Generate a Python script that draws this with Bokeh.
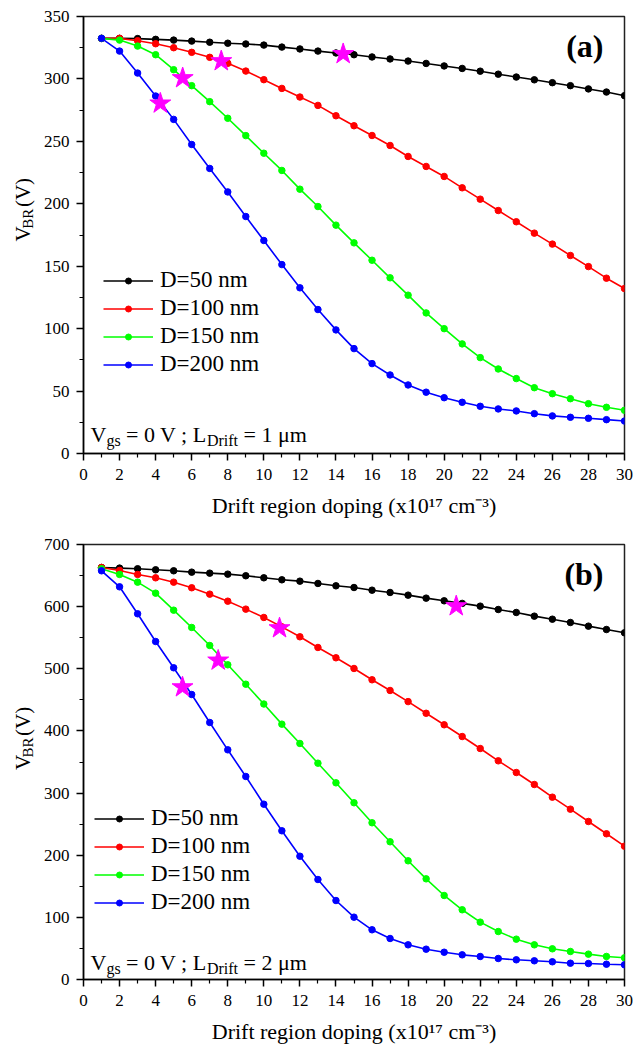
import math
from bokeh.plotting import figure
from bokeh.models import Range1d, FixedTicker, Label, Legend, LegendItem
from bokeh.layouts import column, row
from bokeh.core.properties import value
from bokeh.embed import file_html
from bokeh.resources import INLINE

# ---------------- data ----------------
doping = list(range(1, 31))  # x10^17 cm^-3

# panel (a): L_Drift = 1 um
a_d50 = [332.5, 332.5, 332.3, 331.7, 331.1, 330.3, 329.4, 328.6, 328.0, 327.1,
         325.5, 324.0, 322.3, 320.8, 319.4, 317.6, 316.0, 314.3, 312.4, 310.4,
         308.4, 306.2, 303.8, 301.5, 299.3, 297.0, 294.6, 292.0, 289.5, 286.6]
a_d100 = [332.5, 332.5, 330.6, 328.2, 325.0, 321.3, 317.3, 312.5, 306.3, 299.4,
          292.4, 285.5, 278.8, 270.5, 262.5, 254.7, 246.7, 237.9, 229.9, 221.9,
          212.8, 203.7, 194.6, 185.6, 176.5, 167.7, 158.6, 149.7, 140.4, 132.1]
a_d150 = [332.5, 331.1, 326.3, 319.4, 307.4, 294.6, 281.8, 268.5, 254.6, 240.5,
          226.7, 211.7, 197.8, 182.9, 168.7, 154.8, 140.7, 126.8, 112.6, 100.0,
          87.8, 76.8, 67.7, 60.0, 52.7, 47.9, 43.9, 39.9, 37.0, 34.6]
a_d200 = [332.5, 322.3, 304.7, 286.3, 267.6, 247.5, 228.3, 209.5, 189.8, 170.6,
          151.3, 132.7, 115.3, 99.0, 84.0, 72.0, 62.9, 54.9, 49.1, 44.7,
          41.0, 37.8, 35.7, 34.1, 31.9, 30.1, 29.0, 28.2, 27.1, 26.0]
a_star_x = [4.26, 5.5, 7.64, 14.4]
a_star_y = [280.4, 300.7, 314.3, 320.0]

# panel (b): L_Drift = 2 um
b_d50 = [663.0, 662.0, 661.0, 659.3, 657.7, 655.5, 653.9, 652.3, 649.7, 646.4,
         643.2, 641.0, 637.3, 633.5, 630.8, 626.5, 622.8, 618.5, 613.7, 609.4,
         605.2, 600.8, 595.4, 590.6, 584.7, 579.8, 574.5, 568.6, 563.2, 557.9]
b_d100 = [663.0, 658.2, 651.8, 646.4, 639.4, 630.4, 620.1, 608.8, 596.0, 582.6,
          567.5, 551.5, 534.3, 517.7, 500.5, 482.3, 465.1, 447.2, 428.4, 409.9,
          391.0, 371.7, 351.9, 333.1, 313.8, 293.4, 274.1, 254.3, 234.5, 214.5]
b_d150 = [661.0, 651.8, 639.4, 621.7, 594.3, 566.5, 537.5, 506.4, 475.2, 443.3,
          410.9, 379.8, 348.1, 316.5, 284.4, 252.2, 221.6, 191.0, 162.0, 135.2,
          112.2, 92.3, 77.2, 64.9, 55.8, 49.4, 45.1, 40.8, 37.1, 34.9]
b_d200 = [657.7, 631.9, 588.5, 543.9, 501.6, 458.6, 413.6, 369.6, 326.7, 282.1,
          239.3, 198.4, 160.9, 127.1, 100.3, 80.0, 66.0, 55.8, 48.8, 43.9,
          39.7, 37.0, 33.8, 31.7, 30.1, 28.5, 26.2, 25.7, 24.6, 23.7]
b_star_x = [5.49, 7.47, 10.87, 20.67]
b_star_y = [470.4, 513.4, 565.4, 600.8]

series_names = ["D=50 nm", "D=100 nm", "D=150 nm", "D=200 nm"]
series_colors = ["#000000", "#FF0000", "#00FF00", "#0000FF"]

x_major = list(range(0, 31, 2))
x_minor = list(range(1, 30, 2))

FONT = "Liberation Serif"
# approximate Times/Liberation Serif advance widths (em)
W = {"V": .722, "g": .5, "s": .389, " ": .25, "=": .564, "0": .5, "1": .5, "2": .5,
     ";": .278, "L": .611, "D": .722, "r": .333, "i": .278, "f": .333, "t": .278,
     "μ": .576, "m": .778, "B": .667, "R": .667, "(": .333, ")": .333}


def tw(s, size):
    return sum(W.get(c, .5) for c in s) * size


LAB_W = 40
FRAME_W = 541


def make_panel(height, b_top, b_bot, frame_h, ymax, y_major, y_minor, ys,
               sx, sy, tag, ldrift, leg_loc, note_x, note_y):
    p = figure(width=637 - LAB_W, height=height, x_range=Range1d(0, 30),
               y_range=Range1d(0, ymax), output_backend="svg",
               toolbar_location=None, min_border_left=83 - LAB_W,
               min_border_right=637 - LAB_W - (83 - LAB_W) - FRAME_W,
               min_border_top=b_top, min_border_bottom=b_bot)
    p.grid.visible = False
    p.outline_line_color = "#222222"
    p.outline_line_width = 1.5
    p.background_fill_color = "white"
    p.border_fill_color = "white"

    p.xaxis.ticker = FixedTicker(ticks=x_major, minor_ticks=x_minor)
    p.yaxis.ticker = FixedTicker(ticks=y_major, minor_ticks=y_minor)
    for ax in (p.xaxis[0], p.yaxis[0]):
        ax.axis_line_width = 1.5
        ax.axis_line_color = "black"
        ax.major_tick_out = 7
        ax.major_tick_in = 0
        ax.minor_tick_out = 4
        ax.minor_tick_in = 0
        ax.major_tick_line_width = 1.5
        ax.minor_tick_line_width = 1.2
        ax.major_label_text_font = FONT
        ax.major_label_text_font_size = "17px"
        ax.major_label_text_color = "black"
    p.xaxis.major_label_standoff = 8
    p.yaxis.major_label_standoff = 7
    p.xaxis.axis_label = "Drift region doping (x10\u00b9\u2077 cm\u207b\u00b3)"
    p.xaxis.axis_label_text_font = FONT
    p.xaxis.axis_label_text_font_size = "22px"
    p.xaxis.axis_label_text_font_style = "normal"
    p.xaxis.axis_label_text_color = "black"
    p.xaxis.axis_label_standoff = 10

    items = []
    for name, col, y in zip(series_names, series_colors, ys):
        r1 = p.line(doping, y, line_color=col, line_width=1.6)
        r2 = p.scatter(doping, y, marker="circle", size=6.5, fill_color=col,
                       line_color=col)
        items.append(LegendItem(label=name, renderers=[r1, r2]))
    p.scatter(sx, sy, marker="star", size=22, fill_color="#FF00FF",
              line_color="#FF00FF")

    leg = Legend(items=items, location=leg_loc, background_fill_alpha=0,
                 border_line_alpha=0, label_text_font=FONT,
                 label_text_color="black",
                 label_text_font_size="23px", glyph_width=50, glyph_height=15,
                 label_height=28, spacing=0, padding=5, margin=0,
                 label_standoff=7)
    p.add_layout(leg)

    # condition note: V_gs = 0 V ; L_Drift = x um
    main, sub = 22, 16
    segs = [("V", main, 0, 0), ("gs", sub, -6, 0), ("= 0 V ; L", main, 0, 5.5),
            ("Drift", sub, -6, 0), (f"= {ldrift} μm", main, 0, 5.5)]
    cx = note_x
    for t, s, dy, pre in segs:
        cx += pre
        p.add_layout(Label(x=cx, y=note_y + dy, x_units="screen",
                           y_units="screen", text=t, text_font=FONT,
                           text_font_size=f"{s}px", text_color="black",
                           text_baseline="alphabetic", text_align="left"))
        cx += tw(t, s)

    # panel tag
    p.add_layout(Label(x=FRAME_W - 21, y=frame_h - 29, x_units="screen",
                       y_units="screen", text=tag, text_font=FONT,
                       text_font_size="32px", text_font_style="bold",
                       text_color="black", text_align="right",
                       text_baseline="middle"))

    # separate strip holding the rotated y-axis title V_BR (V)
    lab = figure(width=LAB_W, height=height, x_range=Range1d(0, LAB_W),
                 y_range=Range1d(0, height), output_backend="svg",
                 toolbar_location=None, x_axis_type=None, y_axis_type=None,
                 min_border=0)
    lab.grid.visible = False
    lab.outline_line_color = None
    lab.background_fill_color = "white"
    lab.border_fill_color = "white"
    ymain, ysub = 21, 15
    centre = height - (b_top + frame_h / 2)
    gap = 6
    total = tw("V", ymain) + tw("BR", ysub) + gap + tw("(V)", ymain)
    y0 = centre - total / 2
    parts = [("V", ymain, 22, y0),
             ("BR", ysub, 27, y0 + tw("V", ymain)),
             ("(V)", ymain, 22, y0 + tw("V", ymain) + tw("BR", ysub) + gap)]
    for t, s, xx, yy in parts:
        lab.text(x=[xx], y=[yy], text=[t], angle=math.pi / 2,
                 text_font=value(FONT), text_font_size=value(f"{s}px"),
                 text_color="black", text_align="left",
                 text_baseline="alphabetic")
    return row(lab, p)


r1 = make_panel(524, 16, 71, 437, 350, list(range(0, 351, 50)),
                list(range(25, 350, 50)), [a_d50, a_d100, a_d150, a_d200],
                a_star_x, a_star_y, "(a)", 1, (15, 70), 7, 19)
r2 = make_panel(526, 20, 71, 435, 700, list(range(0, 701, 100)),
                list(range(50, 700, 100)), [b_d50, b_d100, b_d150, b_d200],
                b_star_x, b_star_y, "(b)", 2, (6, 58), 7, 17)

layout = column(r1, r2)
open("out.html", "w").write(file_html(layout, INLINE))
